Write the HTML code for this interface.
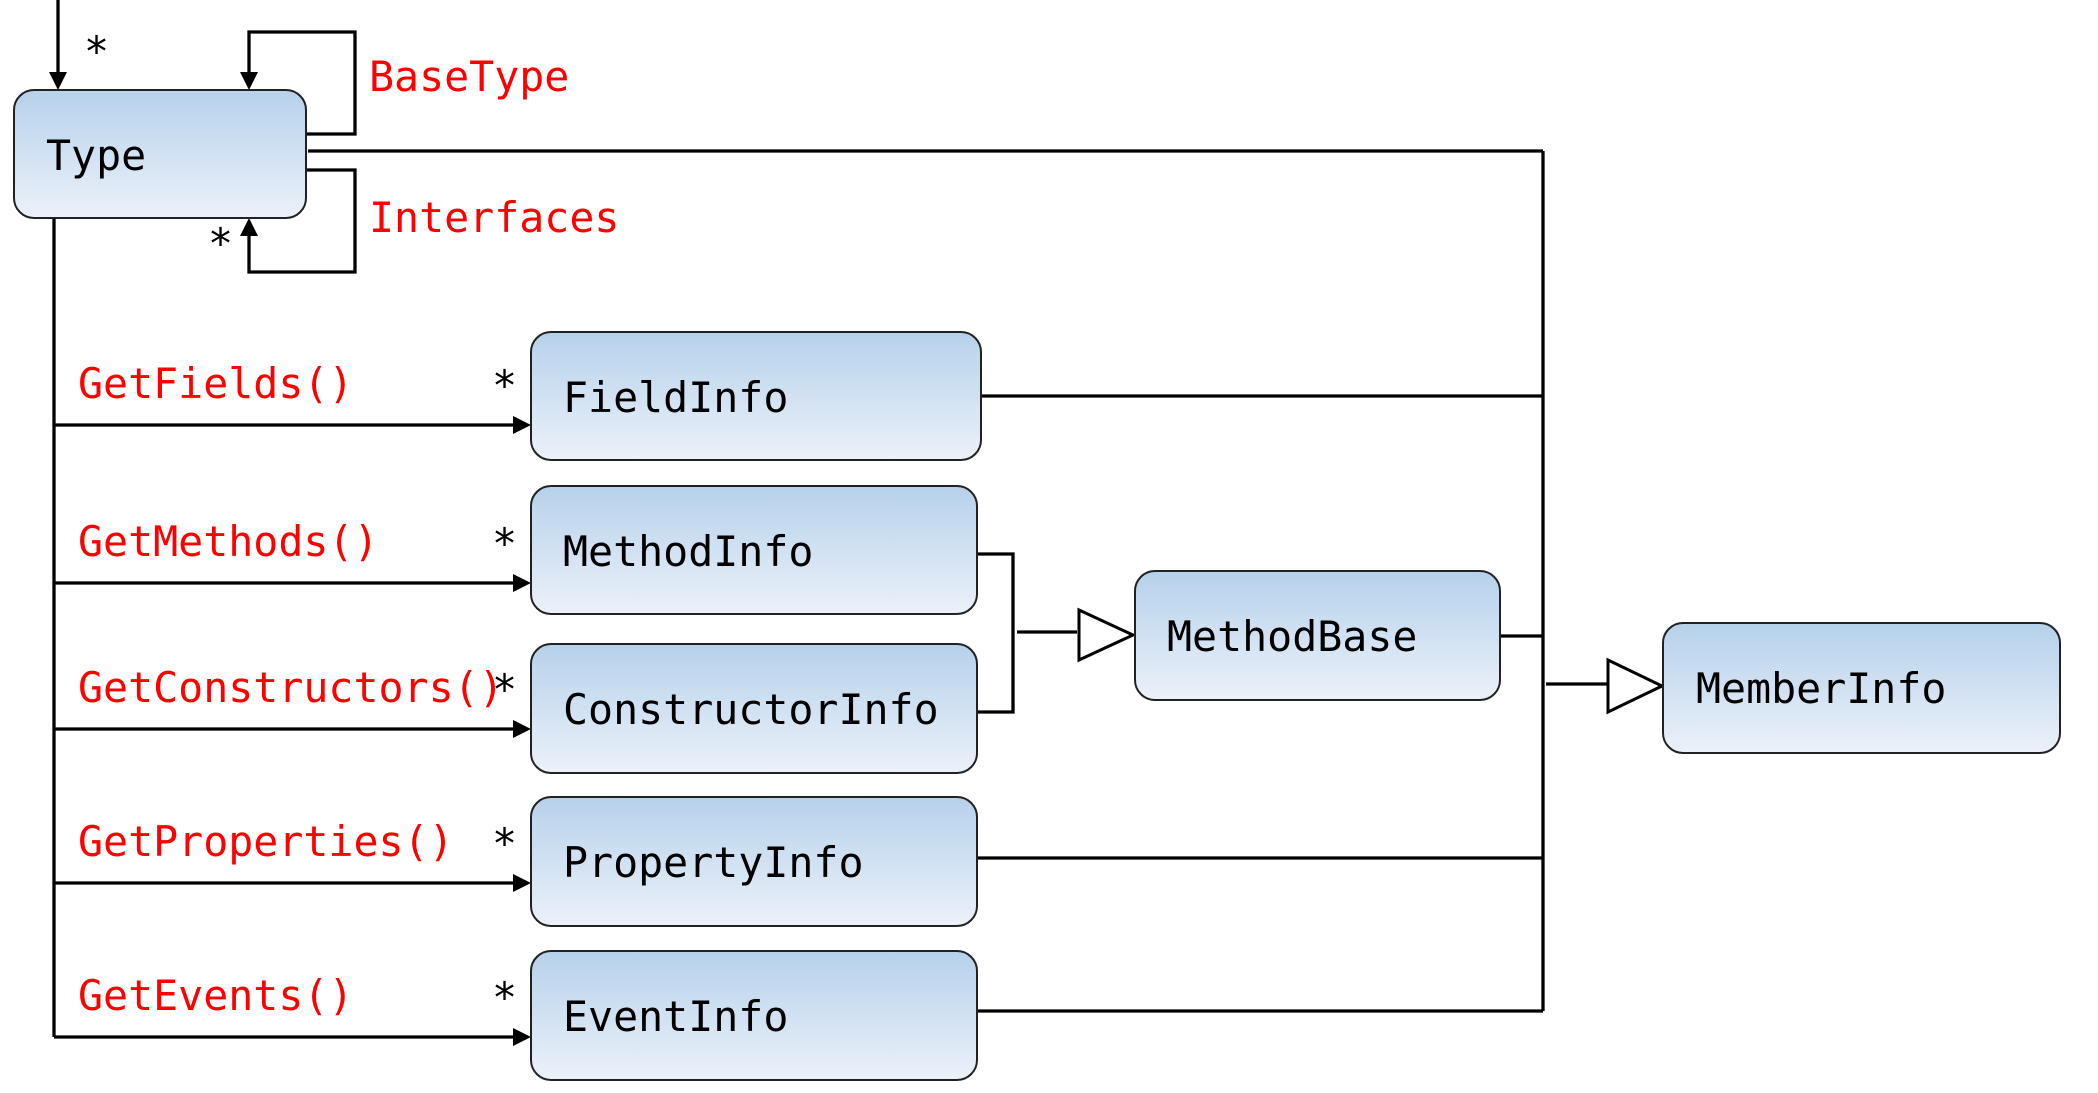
<!DOCTYPE html>
<html><head><style>
body{margin:0;background:#fff;}
svg{display:block}
text{font-family:"DejaVu Sans Mono","Liberation Mono",monospace;font-size:41.6px;}
.r{fill:#ff0000}
</style></head><body>
<svg width="2098" height="1093" viewBox="0 0 2098 1093">
<defs>
<linearGradient id="g" x1="0" y1="0" x2="0" y2="1">
<stop offset="0" stop-color="#b6d1eb"/><stop offset="1" stop-color="#ecf1f9"/>
</linearGradient>
</defs>
<g stroke="#000" stroke-width="3.3" fill="none">
<line x1="58" y1="0" x2="58" y2="72"/>
<polyline points="249,72 249,32 355,32 355,134 306,134"/>
<line x1="308" y1="151" x2="1543" y2="151"/>
<line x1="1543" y1="151" x2="1543" y2="1011"/>
<polyline points="306,170 355,170 355,272 249,272 249,236"/>
<line x1="54" y1="218" x2="54" y2="1037"/>
<line x1="54" y1="425" x2="515" y2="425"/>
<line x1="54" y1="583" x2="515" y2="583"/>
<line x1="54" y1="729" x2="515" y2="729"/>
<line x1="54" y1="883" x2="515" y2="883"/>
<line x1="54" y1="1037" x2="515" y2="1037"/>
<line x1="981" y1="396" x2="1543" y2="396"/>
<line x1="977" y1="858" x2="1543" y2="858"/>
<line x1="977" y1="1011" x2="1543" y2="1011"/>
<polyline points="977,554 1013,554 1013,712 977,712"/>
<line x1="1017" y1="632" x2="1077" y2="632"/>
<line x1="1500" y1="636" x2="1543" y2="636"/>
<line x1="1546" y1="684" x2="1607" y2="684"/>
</g>
<g fill="#000">
<polygon points="49,72 67,72 58,90"/>
<polygon points="240,72 258,72 249,90"/>
<polygon points="240,236 258,236 249,218"/>
<polygon points="513,416 513,434 531,425"/>
<polygon points="513,574 513,592 531,583"/>
<polygon points="513,720 513,738 531,729"/>
<polygon points="513,874 513,892 531,883"/>
<polygon points="513,1028 513,1046 531,1037"/>
</g>
<g fill="#fff" stroke="#000" stroke-width="3">
<polygon points="1079,610 1079,660 1133,635"/>
<polygon points="1608,660 1608,712 1662,686"/>
</g>
<g fill="url(#g)" stroke="#222" stroke-width="2">
<rect x="14" y="90" width="292" height="128" rx="20"/>
<rect x="531" y="332" width="450" height="128" rx="20"/>
<rect x="531" y="486" width="446" height="128" rx="20"/>
<rect x="531" y="644" width="446" height="129" rx="20"/>
<rect x="531" y="797" width="446" height="129" rx="20"/>
<rect x="531" y="951" width="446" height="129" rx="20"/>
<rect x="1135" y="571" width="365" height="129" rx="20"/>
<rect x="1663" y="623" width="397" height="130" rx="20"/>
</g>
<g fill="#000">
<text x="46" y="170">Type</text>
<text x="563" y="412">FieldInfo</text>
<text x="563" y="566">MethodInfo</text>
<text x="563" y="724">ConstructorInfo</text>
<text x="563" y="877">PropertyInfo</text>
<text x="563" y="1031">EventInfo</text>
<text x="1167" y="651">MethodBase</text>
<text x="1696" y="703">MemberInfo</text>
<text x="84" y="66">*</text>
<text x="208" y="258">*</text>
<text x="492" y="400">*</text>
<text x="492" y="558">*</text>
<text x="492" y="704">*</text>
<text x="492" y="858">*</text>
<text x="492" y="1012">*</text>
</g>
<g class="r">
<text x="369" y="91">BaseType</text>
<text x="369" y="232">Interfaces</text>
<text x="78" y="398">GetFields()</text>
<text x="78" y="556">GetMethods()</text>
<text x="78" y="702">GetConstructors()</text>
<text x="78" y="856">GetProperties()</text>
<text x="78" y="1010">GetEvents()</text>
</g>
</svg>
</body></html>
